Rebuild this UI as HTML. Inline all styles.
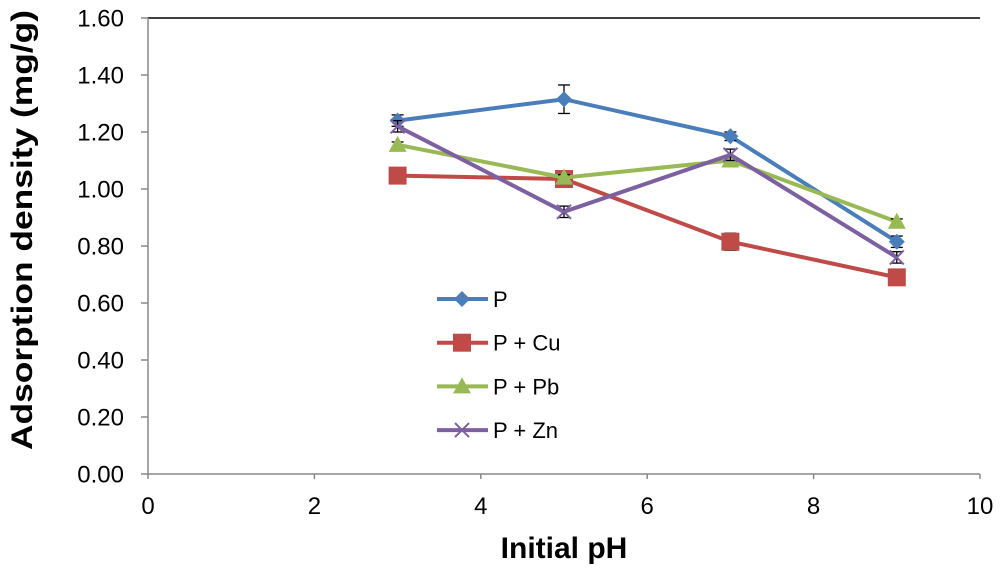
<!DOCTYPE html>
<html><head><meta charset="utf-8"><style>
body{margin:0;background:#fff;}
svg{font-family:"Liberation Sans",Arial,sans-serif;}
</style></head><body>
<svg id="chart" width="1000" height="571"></svg>
<script>
const xs=[3,5,7,9];
const seriesNames=["P","P + Cu","P + Pb","P + Zn"];
const valsP=[1.24,1.315,1.185,0.815];
const valsCu=[1.047,1.035,0.815,0.69];
const valsPb=[1.155,1.04,1.10,0.885];
const valsZn=[1.22,0.92,1.12,0.76];
const errP=[0.02,0.05,0.015,0.02];
const errCu=[0.01,0.01,0.03,0.01];
const errPb=[0.01,0.01,0.01,0.01];
const errZn=[0.02,0.02,0.02,0.02];
const xTicks=[0,2,4,6,8,10];
const yTicks=[0,0.2,0.4,0.6,0.8,1.0,1.2,1.4,1.6];

const NS="http://www.w3.org/2000/svg";
const svg=document.getElementById('chart');
const X0=148,X1=980,Y0=474,Y1=18;
const sx=v=>X0+(v-0)/10*(X1-X0);
const sy=v=>Y0-(v/1.6)*(Y0-Y1);
function mk(t,a,p){const e=document.createElementNS(NS,t);for(const k in a)e.setAttribute(k,a[k]);(p||svg).appendChild(e);return e;}

let e;
e=mk('line',{x1:X0,y1:Y1,x2:X1,y2:Y1,stroke:'#000','stroke-width':1.5});


e=mk('line',{x1:X0,y1:Y1,x2:X0,y2:Y0,stroke:'#888','stroke-width':1.5});


e=mk('line',{x1:X0,y1:Y0,x2:X1,y2:Y0,stroke:'#888','stroke-width':1.5});



yTicks.forEach(v=>{
  const y=sy(v);
  e=mk('line',{x1:X0-7,y1:y,x2:X0,y2:y,stroke:'#888','stroke-width':1.5});
  
  
  e=mk('text',{x:124,y:y+8.5,'text-anchor':'end','font-size':24,fill:'#000'});
  e.textContent=v.toFixed(2);
  
  
});
xTicks.forEach(v=>{
  const x=sx(v);
  e=mk('line',{x1:x,y1:Y0,x2:x,y2:Y0+5,stroke:'#888','stroke-width':1.5});
  
  
  e=mk('text',{x:x,y:514,'text-anchor':'middle','font-size':24,fill:'#000'});
  e.textContent=v;
  
  
});
e=mk('text',{x:564,y:558,'text-anchor':'middle','font-size':30,'font-weight':'bold'});
e.textContent='Initial pH';


e=mk('text',{x:0,y:0,'text-anchor':'middle','font-size':30,'font-weight':'bold',textLength:440,lengthAdjust:'spacingAndGlyphs',transform:'translate(32,230) rotate(-90)'});
e.textContent='Adsorption density (mg/g)';



const colors=['#4a7ebb','#be4b48','#98b954','#7d60a0'];
const allVals=[valsP,valsCu,valsPb,valsZn];
const allErr=[errP,errCu,errPb,errZn];
function marker(i,x,y,g){
  if(i===0) return mk('polygon',{points:`${x},${y-8} ${x+8},${y} ${x},${y+8} ${x-8},${y}`,fill:colors[0]},g);
  if(i===1) return mk('rect',{x:x-9,y:y-9,width:18,height:18,fill:colors[1]},g);
  if(i===2) return mk('polygon',{points:`${x},${y-9} ${x+9},${y+7} ${x-9},${y+7}`,fill:colors[2]},g);
  const gg=mk('g',{},g);
  mk('line',{x1:x-7,y1:y-7,x2:x+7,y2:y+7,stroke:colors[3],'stroke-width':2},gg);
  mk('line',{x1:x-7,y1:y+7,x2:x+7,y2:y-7,stroke:colors[3],'stroke-width':2},gg);
  return gg;
}
allVals.forEach((vals,i)=>{
  const g=mk('g',{});
  
  
  const pl=mk('polyline',{points:vals.map((v,j)=>sx(xs[j])+','+sy(v)).join(' '),fill:'none',stroke:colors[i],'stroke-width':4},g);
  
  
  vals.forEach((v,j)=>{
    const x=sx(xs[j]),y=sy(v),er=allErr[i][j];
    const eb=mk('g',{stroke:'#000','stroke-width':1.3},g);
    
    
    mk('line',{x1:x,y1:sy(v+er),x2:x,y2:sy(v-er)},eb);
    mk('line',{x1:x-6,y1:sy(v+er),x2:x+6,y2:sy(v+er)},eb);
    mk('line',{x1:x-6,y1:sy(v-er),x2:x+6,y2:sy(v-er)},eb);
    const m=marker(i,x,y,g);
    
    
  });
});
const lg=mk('g',{});


seriesNames.forEach((n,i)=>{
  const y=299+i*43.7;
  const g=mk('g',{},lg);
  
  
  mk('line',{x1:437,y1:y,x2:488,y2:y,stroke:colors[i],'stroke-width':4},g);
  marker(i,462,y,g);
  const t=mk('text',{x:493,y:y+8,'font-size':22,fill:'#000'},g);
  t.textContent=n;
});
</script>
</body></html>
